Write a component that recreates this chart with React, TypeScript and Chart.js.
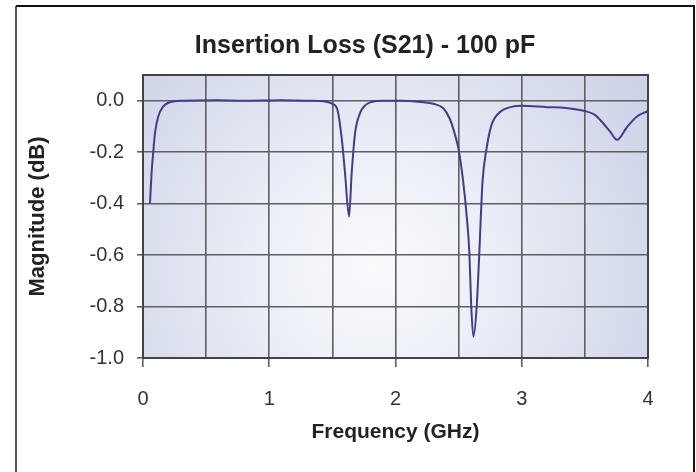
import React, { useEffect, useRef } from "react";
import { Chart, registerables } from "chart.js";

Chart.register(...registerables);

const freqGHz = [
  0.055, 0.068, 0.082, 0.095, 0.12, 0.16, 0.2, 0.25, 0.3, 0.6, 0.8, 1.1, 1.3,
  1.45, 1.5, 1.54, 1.575, 1.6, 1.632, 1.653, 1.68, 1.72, 1.76, 1.81, 1.9,
  2.05, 2.2, 2.3, 2.38, 2.43, 2.47, 2.5, 2.535, 2.566, 2.585, 2.6, 2.617,
  2.643, 2.664, 2.675, 2.69, 2.72, 2.76, 2.83, 2.91, 3.0, 3.2, 3.35, 3.5,
  3.58, 3.62, 3.7, 3.755, 3.83, 3.91, 4.0,
];
const s21dB = [
  -0.4, -0.28, -0.195, -0.125, -0.062, -0.023, -0.008, -0.002, 0, 0.002, 0,
  0.002, 0, -0.004, -0.012, -0.035, -0.15, -0.28, -0.45, -0.28, -0.125,
  -0.047, -0.018, -0.005, 0, 0, -0.005, -0.012, -0.03, -0.07, -0.13, -0.19,
  -0.31, -0.46, -0.59, -0.8, -0.918, -0.8, -0.59, -0.46, -0.31, -0.19,
  -0.095, -0.043, -0.025, -0.02, -0.025, -0.028, -0.04, -0.055, -0.074,
  -0.12, -0.152, -0.105, -0.062, -0.04,
];
const xGridValues = [0, 0.5, 1, 1.5, 2, 2.5, 3, 3.5, 4];
const yTickValues = [-1, -0.8, -0.6, -0.4, -0.2, 0];
const chartTitle = "Insertion Loss (S21) - 100 pF";
const xAxisTitle = "Frequency (GHz)";
const yAxisTitle = "Magnitude (dB)";

const FONT = '"Liberation Sans", Arial, Helvetica, sans-serif';
const GRID = "#5f5f5f";

const decorPlugin = {
  id: "decor",
  beforeDraw(chart: any) {
    const { ctx, chartArea: a } = chart;
    ctx.save();
    const cx = a.left + (a.right - a.left) * 0.46;
    const cy = a.top + (a.bottom - a.top) * 0.68;
    const g = ctx.createRadialGradient(cx, cy, 0, cx, cy, 320);
    g.addColorStop(0, "#fbfbfe");
    g.addColorStop(0.35, "#eceff7");
    g.addColorStop(1, "#ccd3e7");
    ctx.fillStyle = g;
    ctx.fillRect(a.left, a.top, a.right - a.left, a.bottom - a.top);
    // outer border
    ctx.lineWidth = 2;
    ctx.strokeStyle = "#555";
    ctx.beginPath();
    ctx.moveTo(16, 472);
    ctx.lineTo(16, 6);
    ctx.stroke();
    ctx.strokeStyle = "#111";
    ctx.beginPath();
    ctx.moveTo(16, 6);
    ctx.lineTo(694, 6);
    ctx.lineTo(694, 472);
    ctx.stroke();
    // title
    ctx.fillStyle = "#222";
    ctx.font = `bold 25px ${FONT}`;
    ctx.textAlign = "center";
    ctx.textBaseline = "middle";
    ctx.fillText(chartTitle, 365, 46);
    ctx.restore();
  },
  afterDraw(chart: any) {
    const { ctx, chartArea: a } = chart;
    ctx.save();
    ctx.strokeStyle = "#444";
    ctx.lineWidth = 2;
    ctx.strokeRect(a.left, a.top, a.right - a.left, a.bottom - a.top);
    ctx.restore();
  },
};

export default function App() {
  const ref = useRef<HTMLCanvasElement>(null);
  useEffect(() => {
    if (!ref.current) return;
    const chart = new Chart(ref.current, {
      type: "line",
      data: {
        datasets: [
          {
            data: freqGHz.map((f, i) => ({ x: f, y: s21dB[i] })),
            borderColor: "#453b8c",
            borderWidth: 2,
            pointRadius: 0,
            cubicInterpolationMode: "monotone",
            fill: false,
          },
        ],
      },
      options: {
        responsive: false,
        animation: false,
        layout: { padding: { left: 25, right: 48, top: 75, bottom: 27 } },
        plugins: {
          legend: { display: false },
          tooltip: { enabled: false },
          title: { display: false },
        },
        scales: {
          x: {
            type: "linear",
            min: 0,
            max: 4,
            afterBuildTicks: (s: any) => {
              s.ticks = xGridValues.map((v) => ({ value: v }));
            },
            afterFit: (s: any) => {
              s.height = 87;
            },
            ticks: {
              autoSkip: false,
              maxRotation: 0,
              padding: 20,
              color: "#333",
              font: { family: FONT, size: 20 },
              callback: (v: any) => (Number.isInteger(v) ? String(v) : ""),
            },
            grid: {
              color: GRID,
              lineWidth: 1.6,
              tickLength: 9,
              tickColor: (c: any) =>
                c.tick && Number.isInteger(c.tick.value) ? GRID : "rgba(0,0,0,0)",
            },
            border: { display: false },
            title: {
              display: true,
              text: xAxisTitle,
              color: "#222",
              font: { family: FONT, size: 21, weight: "bold" },
              padding: 0,
            },
          },
          y: {
            type: "linear",
            min: -1,
            max: 0.1,
            afterBuildTicks: (s: any) => {
              s.ticks = yTickValues.map((v) => ({ value: v }));
            },
            afterFit: (s: any) => {
              s.width = 118;
            },
            ticks: {
              padding: 13,
              color: "#333",
              font: { family: FONT, size: 20 },
              callback: (v: any) => Number(v).toFixed(1),
            },
            grid: {
              color: GRID,
              lineWidth: 1.6,
              tickLength: 6,
              tickColor: GRID,
            },
            border: { display: false },
            title: {
              display: true,
              text: yAxisTitle,
              color: "#222",
              font: { family: FONT, size: 22, weight: "bold" },
              padding: 0,
            },
          },
        },
      },
      plugins: [decorPlugin],
    } as any);
    return () => chart.destroy();
  }, []);
  return (
    <div style={{ position: "fixed", left: 0, top: 0, width: 696, height: 472, background: "#fff" }}>
      <canvas ref={ref} width={696} height={472} />
    </div>
  );
}
